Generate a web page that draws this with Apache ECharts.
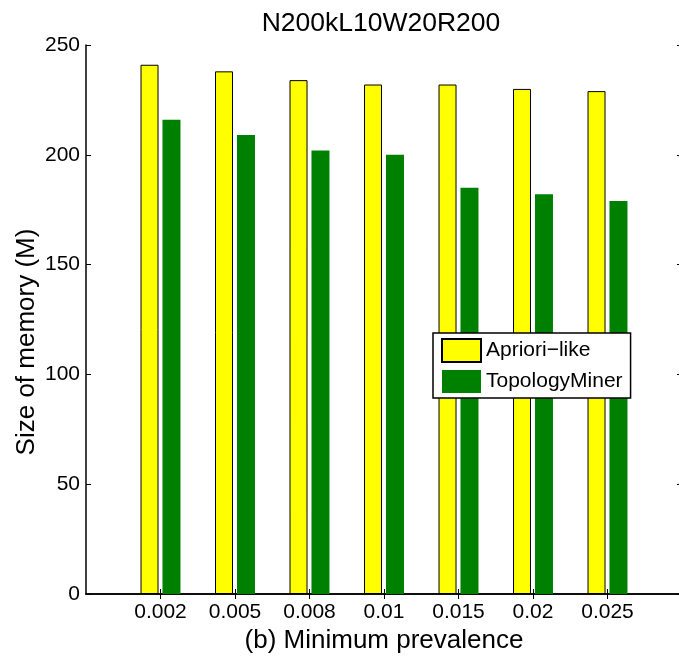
<!DOCTYPE html>
<html>
<head>
<meta charset="utf-8">
<script src="https://cdn.jsdelivr.net/npm/echarts@6/dist/echarts.min.js"></script>
<style>
  html, body { margin: 0; padding: 0; background: #fff; }
  #chart { width: 679px; height: 662px; }
</style>
</head>
<body>
<div id="chart"></div>
<script>
// Minimum prevalence thresholds (x categories)
const categories = ['0.002', '0.005', '0.008', '0.01', '0.015', '0.02', '0.025'];
// Memory use in MB for each algorithm
const aprioriLike = [241, 238, 234, 232, 232, 230, 229];
const topologyMiner = [216, 209, 202, 200, 185, 182, 179];
const yTicks = [0, 50, 100, 150, 200, 250];

// Pad one empty slot on each side so bars sit at 1..N on a 0..N+1 axis
const padded = [''].concat(categories, ['']);
const padData = arr => [null].concat(arr, [null]);
const inner = idx => idx > 0 && idx < padded.length - 1;

const FONT = 'Liberation Sans, Arial, sans-serif';
const axisLine = { show: true, lineStyle: { color: '#000', width: 1.5 } };

const chart = echarts.init(document.getElementById('chart'));
chart.setOption({
  animation: false,
  backgroundColor: '#fff',
  textStyle: { fontFamily: FONT, color: '#000' },
  title: {
    text: 'N200kL10W20R200',
    left: 376,
    textAlign: 'center',
    top: 5,
    textStyle: { fontFamily: FONT, fontSize: 26.5, fontWeight: 'normal', color: '#000' }
  },
  legend: {
    orient: 'vertical',
    left: 433,
    top: 333,
    padding: [5, 8, 5, 8],
    itemWidth: 39,
    itemHeight: 23,
    itemGap: 7,
    icon: 'rect',
    backgroundColor: '#fff',
    borderColor: '#000',
    borderWidth: 1.5,
    borderRadius: 0,
    textStyle: { fontFamily: FONT, fontSize: 21, color: '#000' },
    data: ['Apriori\u2212like', 'TopologyMiner']
  },
  // Vertical axis title, set slightly below the plot's middle
  graphic: [
    {
      type: 'text',
      x: 27,
      y: 342,
      rotation: Math.PI / 2,
      style: {
        text: 'Size of memory (M)',
        font: '26px ' + FONT,
        fill: '#000',
        textAlign: 'center',
        textVerticalAlign: 'middle'
      }
    }
  ],
  grid: { left: 86, top: 45, right: -3, bottom: 68, outerBoundsMode: 'none', containLabel: false },
  xAxis: [
    {
      type: 'category',
      data: padded,
      boundaryGap: false,
      position: 'bottom',
      axisLine: axisLine,
      axisTick: { show: true, inside: true, length: 5, interval: inner, lineStyle: { color: '#000', width: 1 } },
      axisLabel: { fontFamily: FONT, fontSize: 21, color: '#000', margin: 8, interval: 0 },
      splitLine: { show: false },
      name: '(b) Minimum prevalence',
      nameLocation: 'middle',
      nameGap: 27,
      nameTextStyle: { fontFamily: FONT, fontSize: 26, color: '#000' }
    },
    {
      type: 'category',
      data: padded,
      boundaryGap: false,
      position: 'top',
      axisLine: axisLine,
      axisTick: { show: true, inside: true, length: 5, interval: inner, lineStyle: { color: '#000', width: 1 } },
      axisLabel: { show: false },
      splitLine: { show: false }
    }
  ],
  yAxis: [
    {
      type: 'value',
      min: yTicks[0],
      max: yTicks[yTicks.length - 1],
      interval: yTicks[1] - yTicks[0],
      position: 'left',
      axisLine: axisLine,
      axisTick: { show: true, inside: true, length: 5, lineStyle: { color: '#000', width: 1 } },
      axisLabel: { fontFamily: FONT, fontSize: 21, color: '#000', margin: 6 },
      splitLine: { show: false }
    },
    {
      type: 'value',
      min: yTicks[0],
      max: yTicks[yTicks.length - 1],
      interval: yTicks[1] - yTicks[0],
      position: 'right',
      axisLine: axisLine,
      axisTick: { show: true, inside: true, length: 5, lineStyle: { color: '#000', width: 1 } },
      axisLabel: { show: false },
      splitLine: { show: false }
    }
  ],
  series: [
    {
      name: 'Apriori\u2212like',
      type: 'bar',
      data: padData(aprioriLike),
      barWidth: 18,
      barGap: '22%',
      itemStyle: { color: '#ffff00', borderColor: '#000', borderWidth: 1 }
    },
    {
      name: 'TopologyMiner',
      type: 'bar',
      data: padData(topologyMiner),
      barWidth: 18,
      barGap: '22%',
      itemStyle: { color: '#008000' }
    }
  ]
});
</script>
</body>
</html>
